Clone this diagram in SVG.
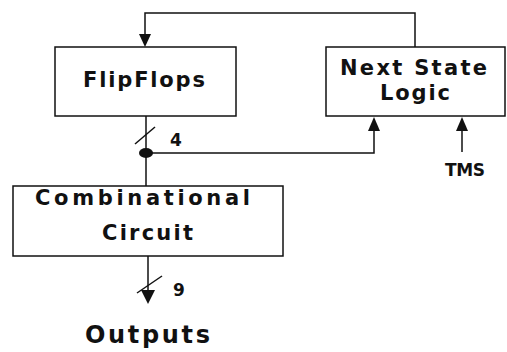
<svg xmlns="http://www.w3.org/2000/svg" width="507" height="352" viewBox="0 0 507 352">
  <defs>
    <style>
      .box { fill: #fff; stroke: #111; stroke-width: 1.5; }
      .wire { fill: none; stroke: #111; stroke-width: 1.5; }
      .head { fill: #111; }
      .lbl { font-family: "DejaVu Sans", Verdana, sans-serif; font-weight: bold; fill: #111; }
      .big { font-size: 21px; }
      .small { font-size: 17px; }
    </style>
  </defs>
  <rect width="507" height="352" fill="#fff"/>

  <g id="connectors">
    <!-- feedback from next-state logic to flip-flops -->
    <path class="wire" d="M415,47 V13 H145 V36"/>
    <path class="head" d="M139,34 H151 L145,47 Z"/>
    <!-- state bus from flip-flops down to combinational circuit -->
    <path class="wire" d="M146,116 V186"/>
    <!-- bus width slash (4) -->
    <path class="wire" d="M135,144 L155,127"/>
    <!-- branch to next-state logic -->
    <path class="wire" d="M146,153 H374 V128"/>
    <path class="head" d="M368,131 H380 L374,117 Z"/>
    <ellipse cx="146" cy="153" rx="7" ry="5" fill="#111"/>
    <!-- TMS input -->
    <path class="wire" d="M462,152 V128"/>
    <path class="head" d="M456,131 H468 L462,117 Z"/>
    <!-- outputs -->
    <path class="wire" d="M148,256 V292"/>
    <path class="head" d="M141,290 H155 L148,304 Z"/>
    <path class="wire" d="M137,293 L162,276"/>
  </g>

  <g id="flipflops">
    <rect class="box" x="55" y="47" width="181" height="69"/>
    <text class="lbl big" x="83" y="87" textLength="122" lengthAdjust="spacing">FlipFlops</text>
  </g>

  <g id="next-state-logic">
    <rect class="box" x="326" y="47" width="179" height="69"/>
    <text class="lbl big" x="340" y="75" textLength="147" lengthAdjust="spacing">Next State</text>
    <text class="lbl big" x="380" y="100" textLength="70" lengthAdjust="spacing">Logic</text>
  </g>

  <g id="combinational-circuit">
    <rect class="box" x="13" y="186" width="270" height="70"/>
    <text class="lbl big" x="35" y="205" textLength="215" lengthAdjust="spacing">Combinational</text>
    <text class="lbl big" x="102" y="240" textLength="91" lengthAdjust="spacing">Circuit</text>
  </g>

  <g id="labels">
    <text class="lbl small" x="170" y="146">4</text>
    <text class="lbl small" x="173" y="296">9</text>
    <text class="lbl small" x="445" y="176" textLength="40" lengthAdjust="spacing">TMS</text>
    <text class="lbl" x="85" y="343" font-size="24" textLength="125" lengthAdjust="spacing">Outputs</text>
  </g>
</svg>
